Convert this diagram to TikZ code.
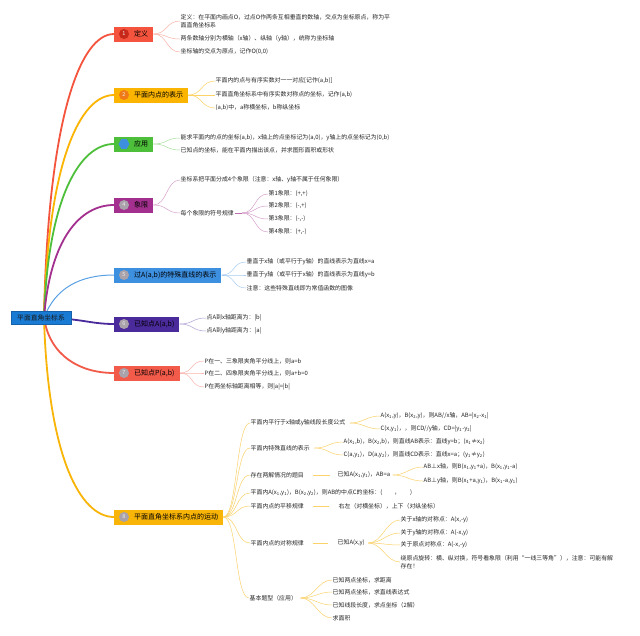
\documentclass[tikz,border=0pt]{standalone}
\usepackage{fontspec}
\setmainfont{Noto Sans CJK SC}
\usetikzlibrary{backgrounds,shapes.geometric}
\definecolor{cRed}{HTML}{F4533D}
\definecolor{cRedD}{HTML}{C8281A}
\definecolor{cAmb}{HTML}{FBB400}
\definecolor{cOrg}{HTML}{F07A16}
\definecolor{cGrn}{HTML}{4DBF3A}
\definecolor{cBlu}{HTML}{3D8FE0}
\definecolor{cMag}{HTML}{A3308E}
\definecolor{cPur}{HTML}{4B2A9C}
\definecolor{cCor}{HTML}{F25A4A}
\definecolor{cYel}{HTML}{F9B408}
\definecolor{cRoot}{HTML}{1A7BD5}
\definecolor{cIcon}{HTML}{A9A2AA}
\newcommand\subA{\textsubscript{1}}
\newcommand\subB{\textsubscript{2}}
\tikzset{
  leaf/.style={anchor=west, inner sep=0.5pt, font=\fontsize{5.9}{7.8}\selectfont, text=black!85, align=left},
  branch/.style={anchor=west, fill=#1, minimum height=15pt, inner ysep=1pt, inner xsep=5pt, font=\fontsize{7}{8}\selectfont, text=black},
  rootbox/.style={fill=cRoot, draw=cRoot!80!black, line width=0.4pt, minimum width=60pt, minimum height=13pt, inner sep=1pt, font=\fontsize{6.8}{8}\selectfont, text=black!90},
  icon/.style={circle, fill=#1, minimum size=10pt, inner sep=0pt, font=\fontsize{5.5}{6}\selectfont, text=white!85!gray},
  bline/.style={line width=1.8pt, draw=#1},
  lline/.style={line width=0.5pt, draw=#1},
}
\newcommand\lk[3]{\draw[lline=#1] (#2) .. controls +(14,0) and +(-14,0) .. (#3);}
\begin{document}
\begin{tikzpicture}[x=1pt,y=-1pt]
\useasboundingbox (0,0) rectangle (640,635);

% root
\node[rootbox] (root) at (41,318) {平面直角坐标系};
\coordinate (rc) at (44,318);

% branches
\node[branch=cRed] (b1) at (114,34) {\hspace{15pt}定义};
\node[icon=cRedD, xshift=10pt] at (b1.west) {1};
\node[branch=cAmb] (b2) at (114,95) {\hspace{15pt}平面内点的表示};
\node[icon=cOrg, xshift=10pt] at (b2.west) {2};
\node[branch=cGrn] (b3) at (114,144) {\hspace{15pt}应用};
\node[regular polygon, regular polygon sides=6, fill=cBlu, minimum size=11pt, inner sep=0pt, xshift=10pt] at (b3.west) {};
\node[branch=cMag] (b4) at (114,205) {\hspace{15pt}象限};
\node[icon=cIcon, xshift=10pt] at (b4.west) {4};
\node[branch=cBlu] (b5) at (114,275) {\hspace{15pt}过A(a,b)的特殊直线的表示};
\node[icon=cIcon, xshift=10pt] at (b5.west) {5};
\node[branch=cPur] (b6) at (114,324) {\hspace{15pt}已知点A(a,b)};
\node[icon=cIcon, xshift=10pt] at (b6.west) {6};
\node[branch=cCor] (b7) at (114,373) {\hspace{15pt}已知点P(a,b)};
\node[icon=cIcon, xshift=10pt] at (b7.west) {7};
\node[branch=cYel] (b8) at (114,517) {\hspace{15pt}平面直角坐标系内点的运动};
\node[icon=cIcon, xshift=10pt] at (b8.west) {8};

% leaves 1
\node[leaf] (d1) at (180,21) {定义：在平面内画点O，过点O作两条互相垂直的数轴，交点为坐标原点，称为平\\面直角坐标系};
\node[leaf] (d2) at (180,39) {两条数轴分别为横轴（x轴）、纵轴（y轴），统称为坐标轴};
\node[leaf] (d3) at (180,52) {坐标轴的交点为原点，记作O(0,0)};
% leaves 2
\node[leaf] (e1) at (215,81) {平面内的点与有序实数对一一对应[记作(a,b)]};
\node[leaf] (e2) at (215,95) {平面直角坐标系中有序实数对称点的坐标，记作(a,b)};
\node[leaf] (e3) at (215,108) {(a,b)中，a称横坐标，b称纵坐标};
% leaves 3
\node[leaf] (f1) at (180,138) {能求平面内的点的坐标(a,b)，x轴上的点坐标记为(a,0)，y轴上的点坐标记为(0,b)};
\node[leaf] (f2) at (180,150) {已知点的坐标，能在平面内描出该点，并求图形面积或形状};
% leaves 4
\node[leaf] (g1) at (180,180) {坐标系把平面分成4个象限（注意：x轴、y轴不属于任何象限）};
\node[leaf] (g2) at (180,213) {每个象限的符号规律};
\coordinate (g2j) at (242,213);
\node[leaf] (q1) at (268,194) {第1象限：(+,+)};
\node[leaf] (q2) at (268,206) {第2象限：(-,+)};
\node[leaf] (q3) at (268,219) {第3象限：(-,-)};
\node[leaf] (q4) at (268,232) {第4象限：(+,-)};
% leaves 5
\node[leaf] (h1) at (246,262) {垂直于x轴（或平行于y轴）的直线表示为直线x=a};
\node[leaf] (h2) at (246,275) {垂直于y轴（或平行于x轴）的直线表示为直线y=b};
\node[leaf] (h3) at (246,288) {注意：这些特殊直线即为常值函数的图像};
% leaves 6
\node[leaf] (i1) at (206,318) {点A到x轴距离为：|b|};
\node[leaf] (i2) at (206,331) {点A到y轴距离为：|a|};
% leaves 7
\node[leaf] (j1) at (204,361) {P在一、三象限夹角平分线上，则a=b};
\node[leaf] (j2) at (204,373) {P在二、四象限夹角平分线上，则a+b=0};
\node[leaf] (j3) at (204,387) {P在两坐标轴距离相等，则|a|=|b|};
% leaves 8
\node[leaf] (m1) at (250,423) {平面内平行于x轴或y轴线段长度公式};
\node[leaf] (m1a) at (380,416) {A(x\subA,y)，B(x\subB,y)，则AB//x轴，AB=|x\subB-x\subA|};
\node[leaf] (m1b) at (380,429) {C(x,y\subA)，，则CD//y轴，CD=|y\subA-y\subB|};
\node[leaf] (m2) at (250,448) {平面内特殊直线的表示};
\node[leaf] (m2a) at (343,442) {A(x\subA,b)，B(x\subB,b)，则直线AB表示：直线y=b；(x\subA≠x\subB)};
\node[leaf] (m2b) at (343,455) {C(a,y\subA)，D(a,y\subB)，则直线CD表示：直线x=a；(y\subA≠y\subB)};
\node[leaf] (m3) at (250,475) {存在两解情况的题目};
\node[leaf] (m3k) at (337,475) {已知A(x\subA,y\subA)，AB=a};
\node[leaf] (m3a) at (423,467) {AB⊥x轴，则B(x\subA,y\subA+a)，B(x\subA,y\subA-a)};
\node[leaf] (m3b) at (423,481) {AB⊥y轴，则B(x\subA+a,y\subA)，B(x\subA-a,y\subA)};
\node[leaf] (m4) at (250,493) {平面内A(x\subA,y\subA)，B(x\subB,y\subB)，则AB的中点C的坐标：(\hspace{12pt}，\hspace{10pt})};
\node[leaf] (m5) at (250,506) {平面内点的平移规律};
\node[leaf] (m5k) at (338,506) {右左（对横坐标），上下（对纵坐标）};
\node[leaf] (m6) at (250,543) {平面内点的对称规律};
\node[leaf] (m6k) at (337,543) {已知A(x,y)};
\node[leaf] (s1) at (400,520) {关于x轴的对称点：A(x,-y)};
\node[leaf] (s2) at (400,533) {关于y轴的对称点：A(-x,y)};
\node[leaf] (s3) at (400,545) {关于原点对称点：A(-x,-y)};
\node[leaf] (s4) at (400,562) {绕原点旋转：横、纵对换，符号看象限（利用“一线三等角”），注意：可能有解\\存在！};
\node[leaf] (m7) at (249,598) {基本题型（应用）};
\node[leaf] (t1) at (332,580) {已知两点坐标，求距离};
\node[leaf] (t2) at (332,592) {已知两点坐标，求直线表达式};
\node[leaf] (t3) at (332,605) {已知线段长度，求点坐标（2解）};
\node[leaf] (t4) at (332,618) {求面积};

\begin{pgfonlayer}{background}
\fill[white] (0,0) rectangle (640,635);
% root to branches
\draw[bline=cRed] (rc) .. controls (48,119) and (80,34) .. (b1.west);
\draw[bline=cAmb] (rc) .. controls (48,162) and (80,95) .. (b2.west);
\draw[bline=cGrn] (rc) .. controls (48,197) and (80,144) .. (b3.west);
\draw[bline=cMag] (rc) .. controls (50,239) and (80,205) .. (b4.west);
\draw[line width=1pt, draw=cBlu!85] (rc) .. controls (55,288) and (80,275) .. (b5.west);
\draw[bline=cPur] (rc) .. controls (80,318) and (90,324) .. (b6.west);
\draw[bline=cCor] (rc) .. controls (50,356) and (80,373) .. (b7.west);
\draw[bline=cYel] (rc) .. controls (48,456) and (80,517) .. (b8.west);
% branch to leaves
\lk{cRed!45}{b1.east}{d1.west}\lk{cRed!45}{b1.east}{d2.west}\lk{cRed!45}{b1.east}{d3.west}
\lk{cAmb!60}{b2.east}{e1.west}\lk{cAmb!60}{b2.east}{e2.west}\lk{cAmb!60}{b2.east}{e3.west}
\lk{cGrn!50}{b3.east}{f1.west}\lk{cGrn!50}{b3.east}{f2.west}
\lk{cMag!45}{b4.east}{g1.west}\lk{cMag!45}{b4.east}{g2.west}
\draw[line width=0.8pt, draw=cMag!70] (g2.east) -- (g2j);
\lk{cMag!45}{g2j}{q1.west}\lk{cMag!45}{g2j}{q2.west}\lk{cMag!45}{g2j}{q3.west}\lk{cMag!45}{g2j}{q4.west}
\lk{cBlu!45}{b5.east}{h1.west}\lk{cBlu!45}{b5.east}{h2.west}\lk{cBlu!45}{b5.east}{h3.west}
\lk{cPur!45}{b6.east}{i1.west}\lk{cPur!45}{b6.east}{i2.west}
\lk{cCor!45}{b7.east}{j1.west}\lk{cCor!45}{b7.east}{j2.west}\lk{cCor!45}{b7.east}{j3.west}
\lk{cYel!60}{b8.east}{m1.west}\lk{cYel!60}{b8.east}{m2.west}\lk{cYel!60}{b8.east}{m3.west}
\lk{cYel!60}{b8.east}{m4.west}\lk{cYel!60}{b8.east}{m5.west}\lk{cYel!60}{b8.east}{m6.west}
\lk{cYel!60}{b8.east}{m7.west}
\lk{cYel!60}{[xshift=4pt]m1.east}{m1a.west}\lk{cYel!60}{[xshift=4pt]m1.east}{m1b.west}
\lk{cYel!60}{[xshift=4pt]m2.east}{m2a.west}\lk{cYel!60}{[xshift=4pt]m2.east}{m2b.west}
\draw[lline=cYel!60] ([xshift=8pt]m3.east) -- ([xshift=-7pt]m3k.west);
\lk{cYel!60}{[xshift=2pt]m3k.east}{m3a.west}\lk{cYel!60}{[xshift=2pt]m3k.east}{m3b.west}
\draw[lline=cYel!60] ([xshift=8pt]m5.east) -- ([xshift=-9pt]m5k.west);
\draw[lline=cYel!60] ([xshift=8pt]m6.east) -- ([xshift=-9pt]m6k.west);
\lk{cYel!60}{[xshift=3pt]m6k.east}{s1.west}\lk{cYel!60}{[xshift=3pt]m6k.east}{s2.west}
\lk{cYel!60}{[xshift=3pt]m6k.east}{s3.west}\lk{cYel!60}{[xshift=3pt]m6k.east}{s4.west}
\lk{cYel!60}{[xshift=3pt]m7.east}{t1.west}\lk{cYel!60}{[xshift=3pt]m7.east}{t2.west}
\lk{cYel!60}{[xshift=3pt]m7.east}{t3.west}\lk{cYel!60}{[xshift=3pt]m7.east}{t4.west}
\end{pgfonlayer}
\end{tikzpicture}
\end{document}
